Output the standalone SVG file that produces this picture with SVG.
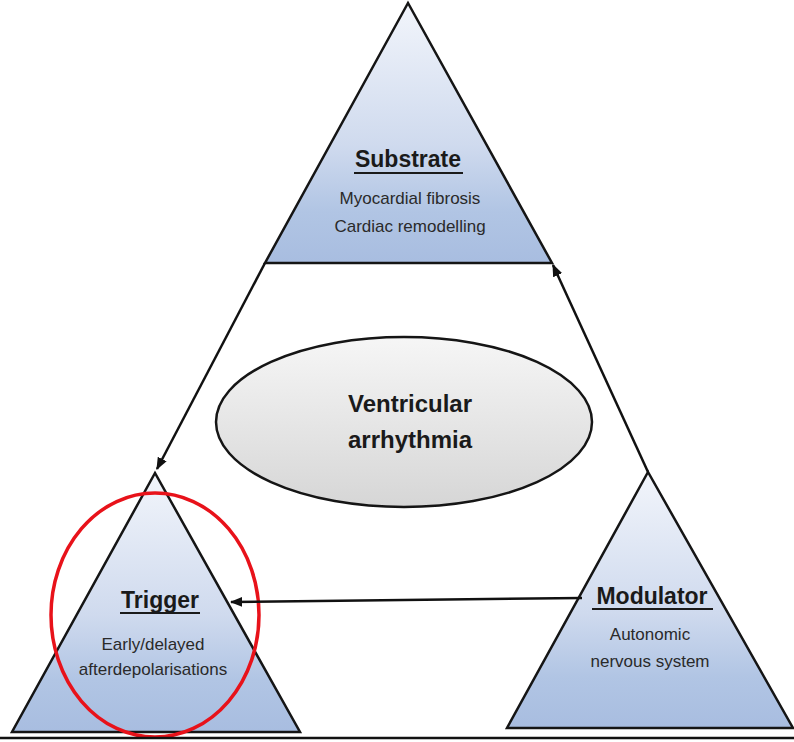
<svg xmlns="http://www.w3.org/2000/svg" width="794" height="742" viewBox="0 0 794 742">
<defs>
<linearGradient id="tri" x1="0" y1="0" x2="0" y2="1">
<stop offset="0" stop-color="#f2f5fb"/>
<stop offset="0.55" stop-color="#cfdaee"/>
<stop offset="0.8" stop-color="#b1c5e4"/>
<stop offset="1" stop-color="#a8bde0"/>
</linearGradient>
<linearGradient id="ell" x1="0" y1="0" x2="0" y2="1">
<stop offset="0" stop-color="#f6f6f6"/>
<stop offset="1" stop-color="#d6d6d6"/>
</linearGradient>
<marker id="arr" viewBox="0 0 10 10" refX="9" refY="5" markerWidth="5" markerHeight="5" orient="auto" markerUnits="strokeWidth">
<path d="M0,1 L10,5 L0,9 Z" fill="#111"/>
</marker>
<style>
.tri{fill:url(#tri);stroke:#151515;stroke-width:2.5;stroke-linejoin:miter}
.title{font-family:"Liberation Sans",Arial,sans-serif;font-weight:bold;font-size:23px;fill:#1a1a1a;text-anchor:middle}
.body{font-family:"Liberation Sans",Arial,sans-serif;font-size:17px;fill:#2a2a2a;text-anchor:middle}
.big{font-family:"Liberation Sans",Arial,sans-serif;font-weight:bold;font-size:24px;fill:#1a1a1a;text-anchor:middle}
.ul{stroke:#1a1a1a;stroke-width:2.2}
.conn{stroke:#111;stroke-width:2.5;fill:none;marker-end:url(#arr)}
</style>
</defs>
<g id="substrate">
<polygon class="tri" points="408,3 265,263 552,263"/>
<text class="title" x="408" y="167">Substrate</text>
<line class="ul" x1="354" y1="173" x2="463" y2="173"/>
<text class="body" x="410" y="204">Myocardial fibrosis</text>
<text class="body" x="410" y="232">Cardiac remodelling</text>
</g>
<g id="trigger">
<polygon class="tri" points="155,473 12,732 300,732"/>
<text class="title" x="160" y="608">Trigger</text>
<line class="ul" x1="120" y1="613" x2="200" y2="613"/>
<text class="body" x="153" y="650">Early/delayed</text>
<text class="body" x="153" y="675">afterdepolarisations</text>
</g>
<g id="modulator">
<polygon class="tri" points="648,472 507,728 793,728"/>
<text class="title" x="652" y="604">Modulator</text>
<line class="ul" x1="592" y1="609" x2="713" y2="609"/>
<text class="body" x="650" y="640">Autonomic</text>
<text class="body" x="650" y="667">nervous system</text>
</g>
<g id="ventricular">
<ellipse cx="404" cy="422" rx="188" ry="85" fill="url(#ell)" stroke="#151515" stroke-width="2.5"/>
<text class="big" x="410" y="412">Ventricular</text>
<text class="big" x="410" y="448">arrhythmia</text>
</g>
<g id="highlight">
<ellipse cx="155" cy="615" rx="104" ry="122" fill="none" stroke="#e8121a" stroke-width="3.5"/>
</g>
<g id="connectors">
<line class="conn" x1="265" y1="263" x2="157" y2="469"/>
<line class="conn" x1="648" y1="472" x2="553" y2="265"/>
<line class="conn" x1="582" y1="598" x2="231" y2="602"/>
</g>
<line x1="0" y1="738" x2="794" y2="738" stroke="#111" stroke-width="2.5"/>
</svg>
